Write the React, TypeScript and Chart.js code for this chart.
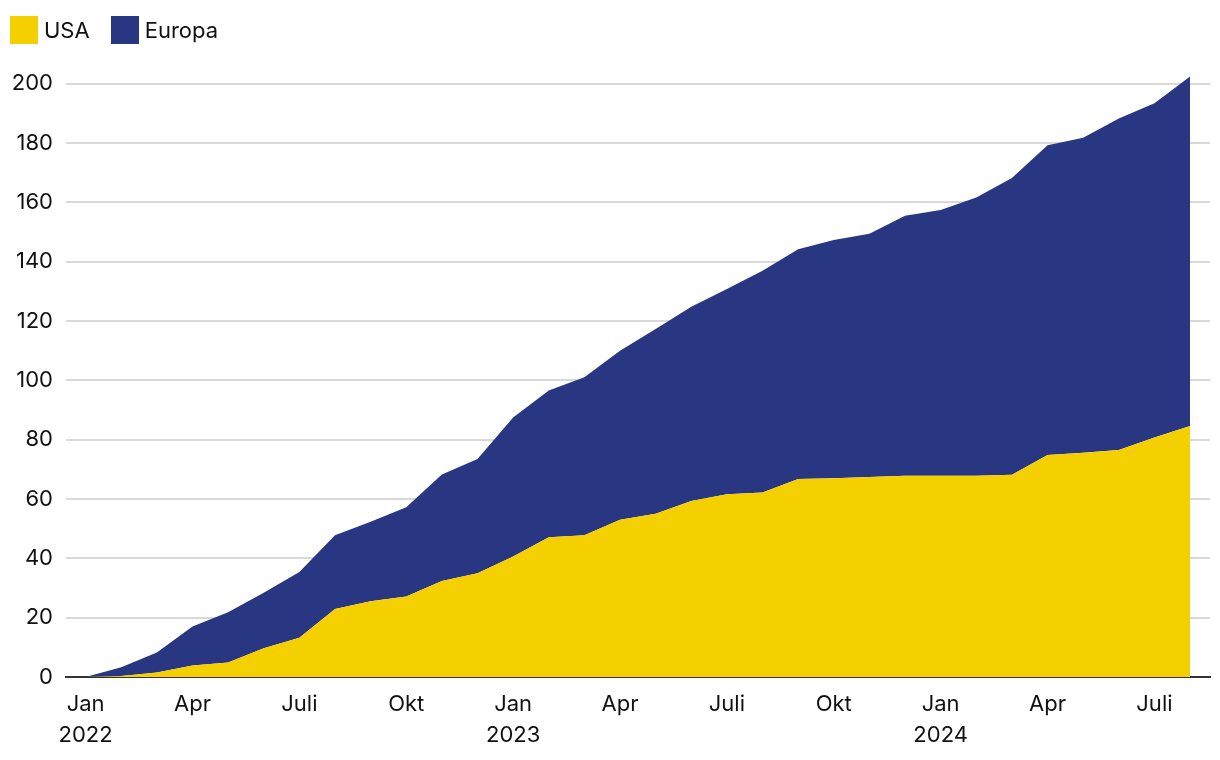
import React, { useEffect, useRef } from "react";
import { Chart, registerables } from "chart.js";

Chart.register(...registerables);

// Monthly categories, Jan 2022 – Aug 2024
const months: string[] = [
  "Jan 2022", "Feb 2022", "Mär 2022", "Apr 2022", "Mai 2022", "Jun 2022", "Jul 2022", "Aug 2022",
  "Sep 2022", "Okt 2022", "Nov 2022", "Dez 2022", "Jan 2023", "Feb 2023", "Mär 2023", "Apr 2023",
  "Mai 2023", "Jun 2023", "Jul 2023", "Aug 2023", "Sep 2023", "Okt 2023", "Nov 2023", "Dez 2023",
  "Jan 2024", "Feb 2024", "Mär 2024", "Apr 2024", "Mai 2024", "Jun 2024", "Jul 2024", "Aug 2024",
];

const usaValues: number[] = [
  0, 0.3, 1.5, 3.9, 4.9, 9.7, 13.2, 22.9, 25.5, 27.1, 32.4, 35.0, 40.6, 47.1, 47.8, 53.0,
  55.0, 59.3, 61.6, 62.2, 66.7, 67.0, 67.4, 67.8, 67.8, 67.8, 68.2, 74.8, 75.6, 76.5, 80.7, 84.6,
];

const europaValues: number[] = [
  0, 3.0, 6.8, 13.1, 16.9, 18.7, 22.2, 24.9, 26.8, 30.1, 35.9, 38.5, 46.9, 49.5, 53.2, 57.0,
  62.3, 65.5, 69.2, 74.7, 77.5, 80.3, 82.0, 87.7, 89.6, 93.8, 100.0, 104.4, 106.2, 111.8, 112.7, 117.8,
];

// x tick positions (month index) and their labels
const tickIndices: number[] = [0, 3, 6, 9, 12, 15, 18, 21, 24, 27, 30];
const tickLabels: (string | string[])[] = [
  ["Jan", "2022"], "Apr", "Juli", "Okt", ["Jan", "2023"], "Apr", "Juli", "Okt", ["Jan", "2024"], "Apr", "Juli",
];

const yTicks: number[] = [0, 20, 40, 60, 80, 100, 120, 140, 160, 180, 200];

const seriesNames = ["USA", "Europa"];
const seriesColors = ["#F5D000", "#293783"];

const FONT = "Inter, 'Noto Sans', sans-serif";

export default function App() {
  const canvasRef = useRef<HTMLCanvasElement | null>(null);

  useEffect(() => {
    if (!canvasRef.current) return;
    const toPoints = (arr: number[]) => arr.map((y, i) => ({ x: i, y }));
    const chart = new Chart(canvasRef.current, {
      type: "line",
      data: {
        labels: months,
        datasets: [
          {
            label: seriesNames[0],
            data: toPoints(usaValues),
            backgroundColor: seriesColors[0],
            borderWidth: 0,
            pointRadius: 0,
            fill: "origin",
            tension: 0,
          },
          {
            label: seriesNames[1],
            data: toPoints(europaValues),
            backgroundColor: seriesColors[1],
            borderWidth: 0,
            pointRadius: 0,
            fill: "-1",
            tension: 0,
          },
        ],
      },
      options: {
        animation: false,
        responsive: false,
        maintainAspectRatio: false,
        layout: { padding: { top: 54, left: 0, right: 10, bottom: 0 } },
        plugins: { legend: { display: false }, tooltip: { enabled: false } },
        scales: {
          x: {
            type: "linear",
            min: -0.55,
            max: 31.56,
            z: 1,
            grid: { display: false, drawTicks: false },
            border: { display: true, color: "#333333", width: 2 },
            afterBuildTicks: (scale: any) => {
              scale.ticks = tickIndices.map((v) => ({ value: v }));
            },
            afterFit: (scale: any) => {
              scale.height = 83;
            },
            ticks: {
              autoSkip: false,
              maxRotation: 0,
              padding: 12,
              color: "#111111",
              font: { family: FONT, size: 22, lineHeight: 1.4 },
              callback: (value: any) => {
                const idx = tickIndices.indexOf(Number(value));
                return idx >= 0 ? tickLabels[idx] : "";
              },
            },
          },
          y: {
            stacked: true,
            min: 0,
            max: 210,
            grid: { color: "#d9d9d9", lineWidth: 2, drawTicks: false },
            border: { display: false },
            afterBuildTicks: (scale: any) => {
              scale.ticks = yTicks.map((v) => ({ value: v }));
            },
            afterFit: (scale: any) => {
              scale.width = 66;
            },
            ticks: {
              padding: 13,
              color: "#111111",
              font: { family: FONT, size: 22 },
            },
          },
        },
      },
    });
    return () => chart.destroy();
  }, []);

  return (
    <div style={{ position: "absolute", left: 0, top: 0, width: 1220, height: 760, background: "#fff" }}>
      <canvas ref={canvasRef} width={1220} height={760} style={{ position: "absolute", left: 0, top: 0 }} />
      <div
        style={{
          position: "absolute",
          left: 10,
          top: 16,
          display: "flex",
          alignItems: "center",
          fontFamily: FONT,
          fontSize: 22,
          color: "#111111",
          lineHeight: "28px",
        }}
      >
        {seriesNames.map((name, i) => (
          <div key={name} style={{ display: "flex", alignItems: "center", marginRight: 21 }}>
            <span style={{ display: "inline-block", width: 28, height: 28, background: seriesColors[i], marginRight: 6 }} />
            <span>{name}</span>
          </div>
        ))}
      </div>
    </div>
  );
}
